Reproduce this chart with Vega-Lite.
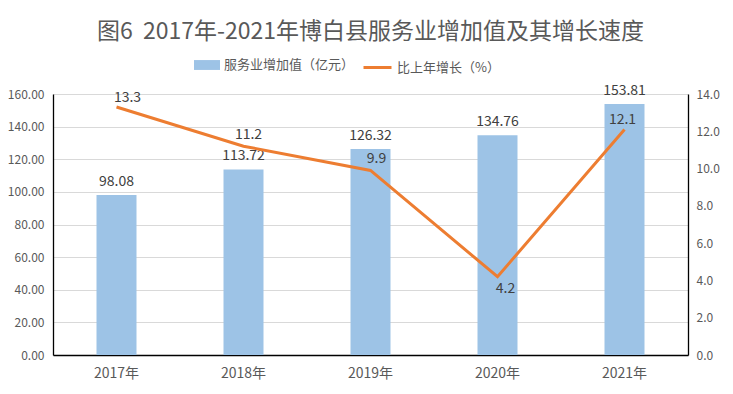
{
  "$schema": "https://vega.github.io/schema/vega-lite/v6.json",
  "width": 635,
  "height": 261,
  "autosize": {"type": "none"},
  "padding": {"left": 53, "top": 94, "right": 45, "bottom": 39},
  "background": "white",
  "title": {
    "text": "图6\u00a0\u00a02017年-2021年博白县服务业增加值及其增长速度",
    "font": "Noto Sans CJK SC",
    "fontSize": 23,
    "fontWeight": "normal",
    "color": "#595959",
    "anchor": "middle",
    "frame": "group",
    "offset": 8
  },
  "config": {
    "view": {"stroke": null},
    "font": "Noto Sans CJK SC"
  },
  "data": {
    "values": [
      {"year": "2017年", "value": 98.08, "growth": 13.3},
      {"year": "2018年", "value": 113.72, "growth": 11.2},
      {"year": "2019年", "value": 126.32, "growth": 9.9},
      {"year": "2020年", "value": 134.76, "growth": 4.2},
      {"year": "2021年", "value": 153.81, "growth": 12.1}
    ]
  },
  "encoding": {
    "x": {
      "field": "year",
      "type": "nominal",
      "sort": null,
      "scale": {"paddingInner": 0.685, "paddingOuter": 0.3425},
      "axis": {
        "title": null,
        "labelAngle": 0,
        "labelFontSize": 14,
        "labelColor": "#595959",
        "labelPadding": 11,
        "ticks": false,
        "domainColor": "#000000",
        "domainWidth": 1.3
      }
    }
  },
  "layer": [
    {
      "encoding": {
        "y": {
          "field": "value",
          "type": "quantitative",
          "scale": {"domain": [0, 160]},
          "axis": {
            "title": null,
            "values": [0, 20, 40, 60, 80, 100, 120, 140, 160],
            "format": ".2f",
            "labelOverlap": false,
            "labelFontSize": 12,
            "labelColor": "#595959",
            "labelPadding": 9,
            "ticks": false,
            "domainColor": "#000000",
            "domainWidth": 1.3,
            "gridColor": "#D9D9D9",
            "gridWidth": 1
          }
        }
      },
      "layer": [
        {
          "mark": {"type": "bar", "color": "#9DC3E6"},
          "encoding": {
            "fill": {
              "datum": "服务业增加值（亿元）",
              "type": "nominal",
              "scale": {"range": ["#9DC3E6"]},
              "legend": {
                "title": null,
                "orient": "none",
                "legendX": 141,
                "legendY": -42,
                "symbolType": "M-1,-0.38L1,-0.38L1,0.38L-1,0.38Z",
                "symbolSize": 676,
                "symbolStrokeWidth": 0,
                "labelFontSize": 13,
                "labelColor": "#595959",
                "labelOffset": 4
              }
            }
          }
        },
        {
          "mark": {"type": "text", "baseline": "middle", "dy": -13, "fontSize": 14, "color": "#404040"},
          "encoding": {
            "text": {"field": "value", "type": "quantitative", "format": ".2f"}
          }
        }
      ]
    },
    {
      "encoding": {
        "y": {
          "field": "growth",
          "type": "quantitative",
          "scale": {"domain": [0, 14]},
          "axis": {
            "title": null,
            "orient": "right",
            "values": [0, 2, 4, 6, 8, 10, 12, 14],
            "format": ".1f",
            "labelOverlap": false,
            "labelFontSize": 12,
            "labelColor": "#595959",
            "labelPadding": 8,
            "ticks": false,
            "grid": false,
            "domainColor": "#000000",
            "domainWidth": 1.3
          }
        },
        "text": {"field": "growth", "type": "quantitative", "format": ".1f"}
      },
      "layer": [
        {
          "mark": {"type": "line", "color": "#ED7D31", "strokeWidth": 3},
          "encoding": {
            "text": null,
            "stroke": {
              "datum": "比上年增长（%）",
              "type": "nominal",
              "scale": {"range": ["#ED7D31"]},
              "legend": {
                "title": null,
                "orient": "none",
                "legendX": 309,
                "legendY": -42,
                "symbolType": "stroke",
                "symbolSize": 784,
                "symbolStrokeWidth": 3,
                "labelFontSize": 13,
                "labelColor": "#595959",
                "labelOffset": 4
              }
            }
          }
        },
        {
          "transform": [{"filter": "datum.year == '2017年'"}],
          "mark": {"type": "text", "baseline": "middle", "dx": 11, "dy": -9, "fontSize": 14, "color": "#404040"}
        },
        {
          "transform": [{"filter": "datum.year == '2018年'"}],
          "mark": {"type": "text", "baseline": "middle", "dx": 5, "dy": -11, "fontSize": 14, "color": "#404040"}
        },
        {
          "transform": [{"filter": "datum.year == '2019年'"}],
          "mark": {"type": "text", "baseline": "middle", "dx": 6, "dy": -11, "fontSize": 14, "color": "#404040"}
        },
        {
          "transform": [{"filter": "datum.year == '2020年'"}],
          "mark": {"type": "text", "baseline": "middle", "dx": 8, "dy": 12.5, "fontSize": 14, "color": "#404040"}
        },
        {
          "transform": [{"filter": "datum.year == '2021年'"}],
          "mark": {"type": "text", "baseline": "middle", "dx": -2, "dy": -9.5, "fontSize": 14, "color": "#404040"}
        }
      ]
    }
  ],
  "resolve": {"scale": {"y": "independent", "fill": "independent", "stroke": "independent"}}
}
